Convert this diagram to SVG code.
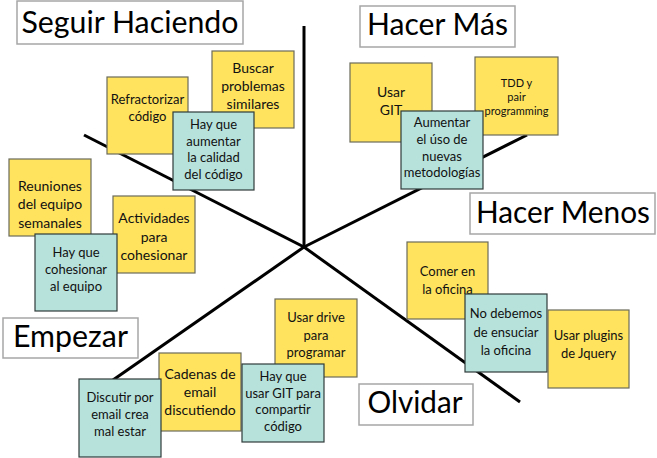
<svg xmlns="http://www.w3.org/2000/svg" width="657" height="458" viewBox="0 0 657 458">
<style>
.bg{fill:#ffffff}
.axis{stroke:#000;stroke-width:3;fill:none;stroke-linecap:butt}
.title rect{fill:#fff;stroke:#a6a6a6;stroke-width:1.5}
.title text{font-family:Lato,"Open Sans","Liberation Sans",sans-serif;font-size:30px;fill:#000;text-anchor:middle}
.y rect{fill:#FFE35E;stroke:#6b6b5a;stroke-width:1.2}
.t rect{fill:#B7E2DC;stroke:#2f3b39;stroke-width:1.2}
.n text{font-family:Lato,"Open Sans","Liberation Sans",sans-serif;font-size:13px;fill:#111;text-anchor:middle}
.n text.s{font-size:11px}
.n text.l{font-size:14px}
</style>
<rect class="bg" x="0" y="0" width="657" height="458"/>
<g id="connectors">
<line class="axis" x1="304" y1="26" x2="304" y2="247"/>
<line class="axis" x1="84" y1="135" x2="304" y2="247"/>
<line class="axis" x1="304" y1="247" x2="527" y2="135"/>
<line class="axis" x1="304" y1="247" x2="113" y2="380"/>
<line class="axis" x1="304" y1="247" x2="520" y2="402"/>
</g>
<g id="title-seguir" class="title"><rect x="17" y="1" width="226" height="43"/><text x="130" y="33" textLength="217" lengthAdjust="spacingAndGlyphs">Seguir Haciendo</text></g>
<g id="title-hacer-mas" class="title"><rect x="360" y="6" width="155" height="41"/><text x="437.5" y="35" textLength="141" lengthAdjust="spacingAndGlyphs">Hacer Más</text></g>
<g id="title-hacer-menos" class="title"><rect x="470" y="193" width="185" height="41"/><text x="563" y="223" textLength="174" lengthAdjust="spacingAndGlyphs">Hacer Menos</text></g>
<g id="title-empezar" class="title"><rect x="3" y="318" width="135" height="40"/><text x="70.5" y="347" textLength="115" lengthAdjust="spacingAndGlyphs">Empezar</text></g>
<g id="title-olvidar" class="title"><rect x="359" y="384" width="114" height="41"/><text x="415" y="413" textLength="95" lengthAdjust="spacingAndGlyphs">Olvidar</text></g>

<g id="n-refractorizar" class="n y"><rect x="107" y="77" width="81" height="77"/><text x="147.5" y="104">Refractorizar</text><text x="147.5" y="121">código</text></g>
<g id="n-buscar" class="n y"><rect x="212" y="51" width="82" height="77"/><text x="253" y="73" class="l">Buscar</text><text x="253" y="91" class="l">problemas</text><text x="253" y="109" class="l">similares</text></g>
<g id="n-calidad" class="n t"><rect x="173" y="112" width="81" height="78"/><text x="213.5" y="129">Hay que</text><text x="213.5" y="146">aumentar</text><text x="213.5" y="162">la calidad</text><text x="213.5" y="179">del código</text></g>
<g id="n-reuniones" class="n y"><rect x="9" y="159" width="82" height="77"/><text x="50" y="191" class="l">Reuniones</text><text x="50" y="209" class="l">del equipo</text><text x="50" y="228" class="l">semanales</text></g>
<g id="n-actividades" class="n y"><rect x="113" y="196" width="82" height="77"/><text x="154" y="223" class="l">Actividades</text><text x="154" y="242" class="l">para</text><text x="154" y="260" class="l">cohesionar</text></g>
<g id="n-cohesionar" class="n t"><rect x="35" y="234" width="82" height="77"/><text x="76" y="257">Hay que</text><text x="76" y="274">cohesionar</text><text x="76" y="291">al equipo</text></g>

<g id="n-usar-git" class="n y"><rect x="350" y="63" width="82" height="79"/><text x="391" y="97" class="l">Usar</text><text x="391" y="115" class="l">GIT</text></g>
<g id="n-tdd" class="n y"><rect x="475" y="57" width="83" height="78"/><text x="516.5" y="87" class="s">TDD y</text><text x="516.5" y="101" class="s">pair</text><text x="516.5" y="115" class="s">programming</text></g>
<g id="n-metodologias" class="n t"><rect x="401" y="111" width="82" height="78"/><text x="442" y="127">Aumentar</text><text x="442" y="144">el úso de</text><text x="442" y="161">nuevas</text><text x="442" y="177">metodologías</text></g>

<g id="n-comer" class="n y"><rect x="407" y="242" width="81" height="77"/><text x="447.5" y="276">Comer en</text><text x="447.5" y="294">la oficina</text></g>
<g id="n-ensuciar" class="n t"><rect x="465" y="294" width="82" height="78"/><text x="506" y="318">No debemos</text><text x="506" y="337">de ensuciar</text><text x="506" y="355">la oficina</text></g>
<g id="n-plugins" class="n y"><rect x="548" y="310" width="81" height="78"/><text x="588.5" y="340">Usar plugins</text><text x="588.5" y="358">de Jquery</text></g>

<g id="n-drive" class="n y"><rect x="275" y="299" width="82" height="78"/><text x="316" y="322">Usar drive</text><text x="316" y="340">para</text><text x="316" y="357">programar</text></g>
<g id="n-cadenas" class="n y"><rect x="159" y="353" width="82" height="78"/><text x="200" y="379" class="l">Cadenas de</text><text x="200" y="397" class="l">email</text><text x="200" y="415" class="l">discutiendo</text></g>
<g id="n-git-compartir" class="n t"><rect x="242" y="364" width="82" height="78"/><text x="283" y="381">Hay que</text><text x="283" y="398">usar GIT para</text><text x="283" y="414">compartir</text><text x="283" y="431">código</text></g>
<g id="n-discutir" class="n t"><rect x="79" y="379" width="82" height="78"/><text x="120" y="402">Discutir por</text><text x="120" y="419">email crea</text><text x="120" y="436">mal estar</text></g>
</svg>
